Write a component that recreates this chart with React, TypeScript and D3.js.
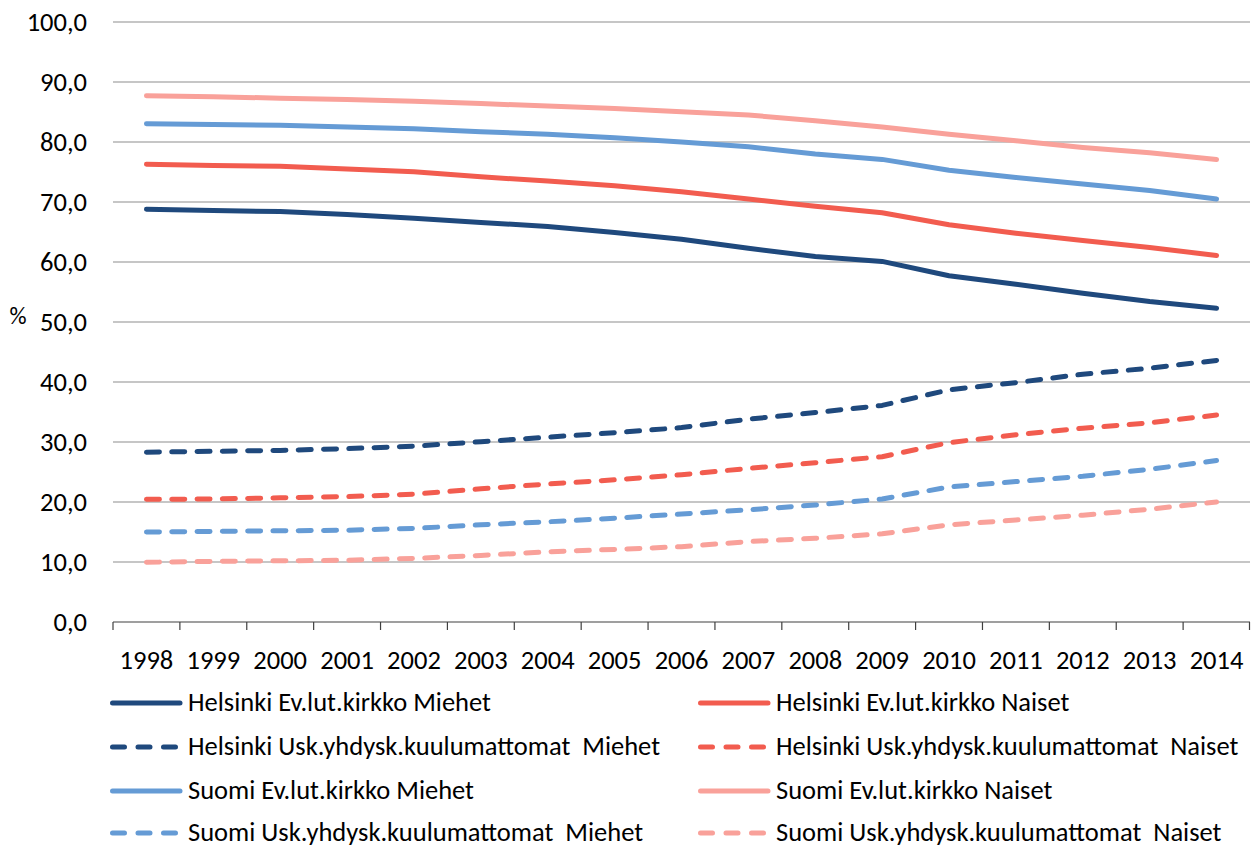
import React from "react";
import * as d3 from "d3";

const years = ["1998","1999","2000","2001","2002","2003","2004","2005","2006","2007","2008","2009","2010","2011","2012","2013","2014"];
const yTicks = [0, 10, 20, 30, 40, 50, 60, 70, 80, 90, 100];

const helEvM = [68.8, 68.6, 68.4, 67.9, 67.3, 66.6, 65.9, 64.9, 63.8, 62.3, 60.9, 60.1, 57.7, 56.3, 54.8, 53.4, 52.3];
const helEvN = [76.3, 76.1, 75.95, 75.5, 75.05, 74.2, 73.5, 72.7, 71.7, 70.5, 69.3, 68.2, 66.2, 64.8, 63.6, 62.4, 61.1];
const helUskM = [28.3, 28.45, 28.6, 28.9, 29.3, 30.05, 30.8, 31.55, 32.4, 33.8, 34.9, 36.1, 38.7, 39.9, 41.3, 42.3, 43.6];
const helUskN = [20.45, 20.5, 20.7, 20.9, 21.3, 22.2, 23.0, 23.7, 24.55, 25.6, 26.55, 27.55, 29.9, 31.2, 32.3, 33.2, 34.5];
const suoEvM = [83.05, 82.9, 82.8, 82.5, 82.2, 81.7, 81.3, 80.7, 80.0, 79.2, 78.0, 77.1, 75.3, 74.1, 73.0, 71.9, 70.5];
const suoEvN = [87.7, 87.55, 87.3, 87.1, 86.8, 86.4, 86.0, 85.6, 85.05, 84.5, 83.55, 82.5, 81.3, 80.2, 79.1, 78.2, 77.1];
const suoUskM = [15.0, 15.1, 15.2, 15.3, 15.6, 16.2, 16.7, 17.3, 18.0, 18.7, 19.5, 20.5, 22.5, 23.4, 24.3, 25.45, 26.9];
const suoUskN = [9.95, 10.1, 10.2, 10.3, 10.6, 11.1, 11.7, 12.1, 12.55, 13.4, 13.95, 14.7, 16.2, 17.0, 17.8, 18.8, 20.0];

const C_DARK = "#1f497d";
const C_RED = "#f25c4f";
const C_BLUE = "#659bd5";
const C_PINK = "#f9a19a";

const series = [
  { name: "Helsinki Ev.lut.kirkko Miehet", values: helEvM, color: C_DARK, dashed: false },
  { name: "Helsinki Ev.lut.kirkko Naiset", values: helEvN, color: C_RED, dashed: false },
  { name: "Helsinki Usk.yhdysk.kuulumattomat  Miehet", values: helUskM, color: C_DARK, dashed: true },
  { name: "Helsinki Usk.yhdysk.kuulumattomat  Naiset", values: helUskN, color: C_RED, dashed: true },
  { name: "Suomi Ev.lut.kirkko Miehet", values: suoEvM, color: C_BLUE, dashed: false },
  { name: "Suomi Ev.lut.kirkko Naiset", values: suoEvN, color: C_PINK, dashed: false },
  { name: "Suomi Usk.yhdysk.kuulumattomat  Miehet", values: suoUskM, color: C_BLUE, dashed: true },
  { name: "Suomi Usk.yhdysk.kuulumattomat  Naiset", values: suoUskN, color: C_PINK, dashed: true },
];

const FONT = "Carlito, Calibri, Lato, 'Open Sans', sans-serif";
const FS = 26.5;

export default function App() {
  const W = 1251, H = 847;
  const left = 113, right = 1250, top = 22, bottom = 622;
  const x = d3.scaleBand<string>().domain(years).range([left, right]);
  const y = d3.scaleLinear().domain([0, 100]).range([bottom, top]);
  const cx = (yr: string) => (x(yr) as number) + x.bandwidth() / 2;
  const line = d3.line<number>().x((_, i) => cx(years[i])).y((v) => y(v));
  const fmt = (v: number) => v.toFixed(1).replace(".", ",");
  const dash = "13 12.3";

  const legendRows = [703, 747, 791, 833];
  const legendCols = [110, 698];

  return (
    <svg width={W} height={H} style={{ position: "absolute", left: 0, top: 0, background: "#fff" }} fontFamily={FONT}>
      {yTicks.filter((t) => t > 0).map((t) => (
        <line key={t} x1={left} x2={right} y1={y(t)} y2={y(t)} stroke="#b3b3b3" strokeWidth={1.5} />
      ))}
      <line x1={left} x2={right} y1={bottom} y2={bottom} stroke="#404040" strokeWidth={1.2} />
      {years.map((yr) => (
        <line key={yr} x1={x(yr) as number} x2={x(yr) as number} y1={bottom} y2={bottom + 8} stroke="#404040" strokeWidth={1.2} />
      ))}
      <line x1={right - 0.5} x2={right - 0.5} y1={bottom} y2={bottom + 8} stroke="#404040" strokeWidth={1.2} />
      {yTicks.map((t) => (
        <text key={t} x={87} y={y(t)} dy="0.35em" textAnchor="end" fontSize={FS} fill="#000">{fmt(t)}</text>
      ))}
      <text x={18} y={316} dy="0.35em" textAnchor="middle" fontSize={FS * 0.9} fill="#000">%</text>
      {years.map((yr) => (
        <text key={yr} x={cx(yr)} y={660} dy="0.35em" textAnchor="middle" fontSize={FS} fill="#000">{yr}</text>
      ))}
      {series.map((s) => (
        <path key={s.name} d={line(s.values) || ""} fill="none" stroke={s.color} strokeWidth={5}
          strokeLinecap="round" strokeLinejoin="round" strokeDasharray={s.dashed ? dash : undefined} />
      ))}
      {series.map((s, i) => {
        const col = i % 2;
        const row = Math.floor(i / 2);
        const lx = legendCols[col];
        const ly = legendRows[row];
        return (
          <g key={"lg" + i}>
            <line x1={lx + 2.5} x2={lx + 70} y1={ly} y2={ly} stroke={s.color} strokeWidth={5} strokeLinecap="round"
              strokeDasharray={s.dashed ? "12 13.5" : undefined} />
            <text x={lx + 78} y={ly} dy="0.3em" fontSize={FS} fill="#000" style={{ whiteSpace: "pre" }}>{s.name}</text>
          </g>
        );
      })}
    </svg>
  );
}
